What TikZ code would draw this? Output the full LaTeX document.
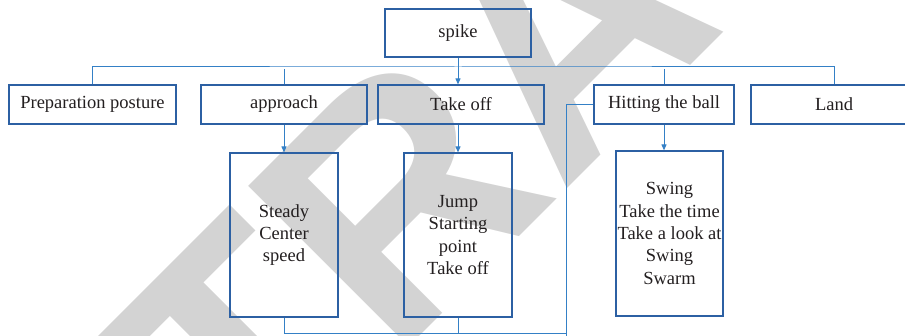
\documentclass[tikz,border=0pt]{standalone}
\usepackage{fontspec}
\setmainfont{Liberation Serif}
\newfontfamily\stampfont{Liberation Sans}
\usetikzlibrary{arrows.meta}
\definecolor{boxblue}{RGB}{44,96,163}
\definecolor{linkblue}{RGB}{52,128,198}
\definecolor{inkgray}{RGB}{35,31,32}
\definecolor{stampgray}{RGB}{211,211,211}
\begin{document}
\begin{tikzpicture}[x=1pt,y=-1pt,
  box/.style={draw=boxblue,line width=1.2pt,text=inkgray,align=center,
    inner sep=0pt,font=\fontsize{18.5}{22.3}\selectfont},
  rowbox/.style={box,minimum height=39pt},
  tallbox/.style={box,minimum width=108pt,minimum height=164pt},
  link/.style={draw=linkblue,line width=1pt},
  tip/.style={link,-{Triangle[length=6pt,width=5pt]}}]
\clip (0,0) rectangle (905,336);
% diagonal stamp behind the chart
\node[rotate=45,anchor=base,inner sep=0pt,text=stampgray,
  font=\stampfont\bfseries\fontsize{330}{330}\selectfont] (stamp) at (646,110) {RETRACTED};

% top node
\node[box,minimum width=146pt,minimum height=48pt] (spike) at (458,33) {spike};

% second row
\node[rowbox,minimum width=167pt] (prep) at (92.5,104.5) {Preparation posture};
\node[rowbox,minimum width=166pt] (appr) at (284,104.5) {approach};
\node[rowbox,minimum width=166pt] (take) at (461,104.5) {Take off};
\node[rowbox,minimum width=140pt] (hit) at (664,104.5) {Hitting the ball};
\node[rowbox,minimum width=166pt] (land) at (834,104.5) {Land};

% third row
\node[tallbox] (steady) at (284,235) {Steady\\Center\\speed};
\node[tallbox] (jump) at (458,235) {Jump\\Starting\\point\\Take off};
\node[box,minimum width=107pt,minimum height=165pt] (swing) at (669.5,233.5)
  {Swing\\Take the time\\Take a look at\\Swing\\Swarm};

% bus joining the second row
\coordinate (bus) at (458,67);
\draw[link] (prep.north) |- (bus) -| (land.north);
\draw[link] (appr.north) -- ([yshift=-2pt]appr.north |- bus);
\draw[link] (hit.north) -- ([yshift=-2pt]hit.north |- bus);
\draw[tip] (spike.south) -- (spike.south |- take.north);

% arrows down to the detail boxes
\draw[tip] (appr.south) -- (steady.north);
\draw[tip] (jump.north |- take.south) -- (jump.north);
\draw[tip] (hit.south) -- (hit.south |- swing.north);

% lines running off the lower edge
\coordinate (join) at (566,334);
\coordinate (drop) at (566,340);
\draw[link] (steady.south) |- (join);
\draw[link] (jump.south) -- (jump.south |- join);
\draw[link] (hit.west) -| (drop);
\end{tikzpicture}
\end{document}
